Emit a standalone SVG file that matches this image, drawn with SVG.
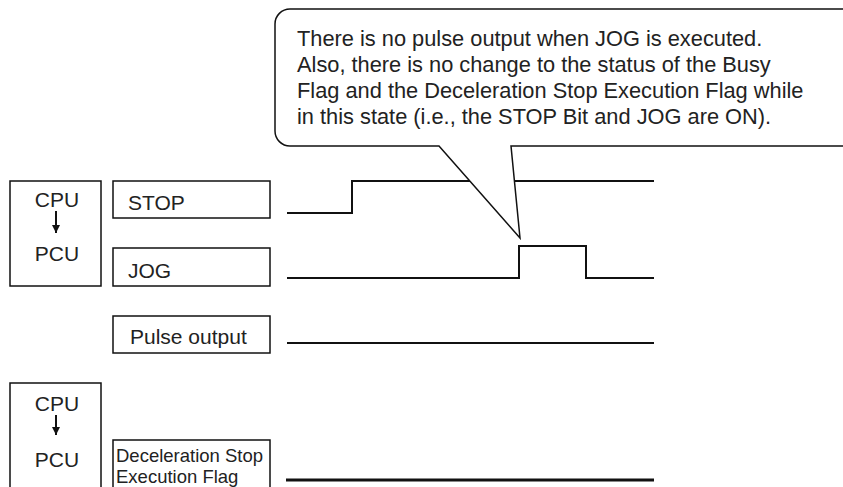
<svg xmlns="http://www.w3.org/2000/svg" width="843" height="487" viewBox="0 0 843 487">
<defs>
<marker id="ah" viewBox="0 0 10 10" refX="10" refY="5" markerWidth="10" markerHeight="8" markerUnits="userSpaceOnUse" orient="auto">
<path d="M0,0 L10,5 L0,10 Z" fill="#111"/>
</marker>
</defs>
<style>
.box{fill:#fff;stroke:#111;stroke-width:1.5}
.t{font-family:"Liberation Sans",Arial,sans-serif;font-size:21px;fill:#222}
.ts{font-family:"Liberation Sans",Arial,sans-serif;font-size:18.5px;fill:#222}
.tc{font-family:"Liberation Sans",Arial,sans-serif;font-size:21.8px;fill:#222}
.sig{fill:none;stroke:#111;stroke-width:2}
.arr{stroke:#111;stroke-width:2}
</style>
<rect width="843" height="487" fill="#fff"/>

<g id="cpu-pcu-1">
<rect class="box" x="10" y="181" width="91" height="105"/>
<text class="t" x="57" y="207" text-anchor="middle">CPU</text>
<line class="arr" x1="56" y1="211" x2="56" y2="233" marker-end="url(#ah)"/>
<text class="t" x="57" y="261" text-anchor="middle">PCU</text>
</g>

<g id="stop-label">
<rect class="box" x="113" y="181" width="157" height="37"/>
<text class="t" x="128" y="210">STOP</text>
</g>

<g id="jog-label">
<rect class="box" x="113" y="248" width="157" height="38"/>
<text class="t" x="128" y="278">JOG</text>
</g>

<g id="pulse-label">
<rect class="box" x="113" y="316" width="157" height="37"/>
<text class="t" x="130" y="344">Pulse output</text>
</g>

<g id="cpu-pcu-2">
<rect class="box" x="10" y="383" width="91" height="110"/>
<text class="t" x="57" y="411" text-anchor="middle">CPU</text>
<line class="arr" x1="56" y1="415" x2="56" y2="435" marker-end="url(#ah)"/>
<text class="t" x="57" y="467" text-anchor="middle">PCU</text>
</g>

<g id="decel-label">
<rect class="box" x="113" y="440" width="157" height="55"/>
<text class="ts" x="116" y="462">Deceleration Stop</text>
<text class="ts" x="116" y="483">Execution Flag</text>
</g>

<g id="connectors">
<polyline id="stop-signal" class="sig" points="287,213 352,213 352,181 654,181"/>
<polyline id="jog-signal" class="sig" points="287,278 519,278 519,246 586,246 586,278 654,278"/>
<line id="pulse-signal" class="sig" x1="287" y1="343" x2="654" y2="343"/>
<line id="decel-signal" x1="286" y1="480" x2="654" y2="480" stroke="#111" stroke-width="3"/>
</g>

<g id="callout">
<path d="M290,9 H850 V146 H511 L520,238 L439,146 H290 A15,15 0 0 1 275,131 V24 A15,15 0 0 1 290,9 Z" fill="#fff" stroke="#111" stroke-width="1.5"/>
<text class="tc" x="297" y="46">There is no pulse output when JOG is executed.</text>
<text class="tc" x="297" y="72">Also, there is no change to the status of the Busy</text>
<text class="tc" x="297" y="98">Flag and the Deceleration Stop Execution Flag while</text>
<text class="tc" x="297" y="124">in this state (i.e., the STOP Bit and JOG are ON).</text>
</g>
</svg>
